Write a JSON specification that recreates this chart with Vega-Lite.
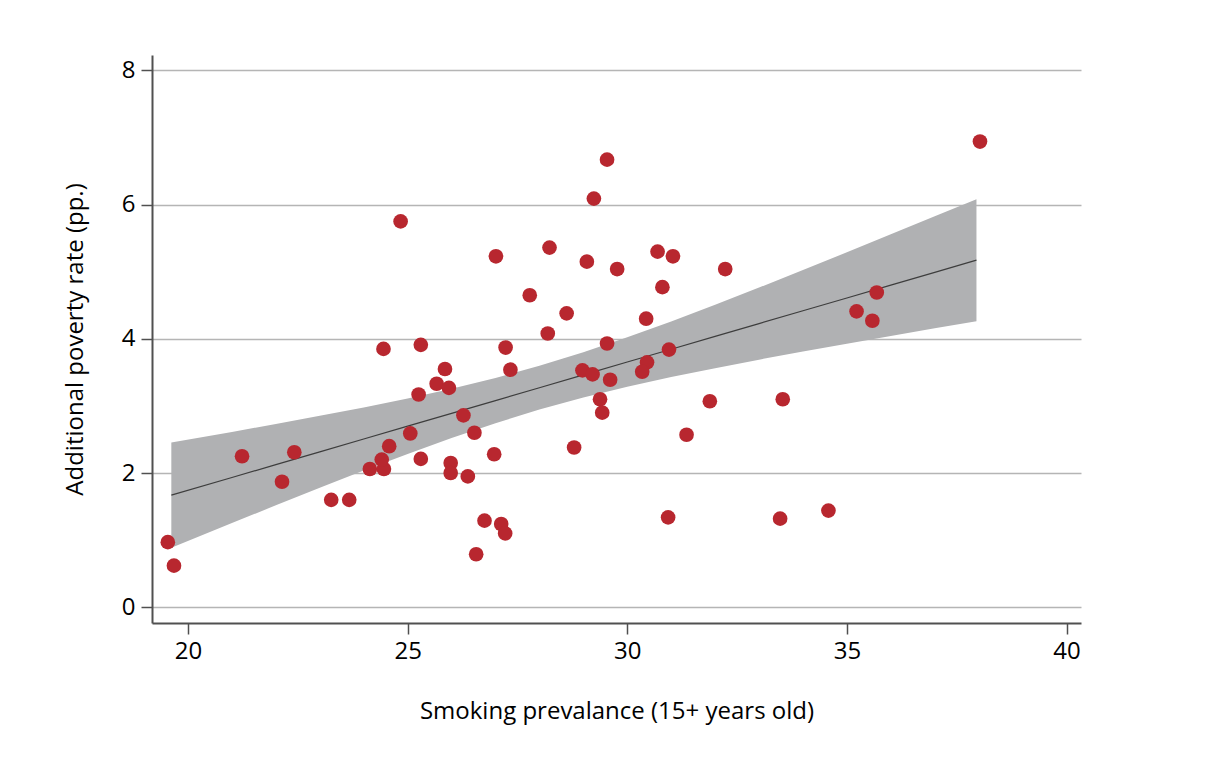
{
  "$schema": "https://vega.github.io/schema/vega-lite/v6.json",
  "width": 929,
  "height": 568,
  "autosize": {"type": "none"},
  "padding": {"left": 152, "top": 55, "right": 134, "bottom": 139},
  "background": "white",
  "config": {
    "view": {"stroke": null},
    "font": "Open Sans",
    "axisX": {
      "domainColor": "#505050", "domainWidth": 2,
      "tickColor": "#505050", "tickWidth": 1.5, "tickSize": 11,
      "labelFontSize": 24, "labelColor": "#000000", "labelPadding": 5, "labelFlush": false,
      "titleFontSize": 24, "titleFontWeight": "normal", "titleColor": "#000000", "titlePadding": 36,
      "grid": false
    },
    "axisY": {
      "domainColor": "#505050", "domainWidth": 2,
      "tickColor": "#505050", "tickWidth": 1.5, "tickSize": 11,
      "labelFontSize": 24, "labelColor": "#000000", "labelPadding": 6, "labelFlush": false, "labelAngle": 0,
      "titleFontSize": 24, "titleFontWeight": "normal", "titleColor": "#000000", "titlePadding": 34,
      "grid": true, "gridColor": "#b5b5b5", "gridWidth": 1.3
    }
  },
  "datasets": {
    "countries": [
      {"smoking": 19.54, "poverty": 0.97},
      {"smoking": 19.68, "poverty": 0.62},
      {"smoking": 21.23, "poverty": 2.25},
      {"smoking": 22.42, "poverty": 2.31},
      {"smoking": 22.14, "poverty": 1.87},
      {"smoking": 23.26, "poverty": 1.60},
      {"smoking": 23.67, "poverty": 1.60},
      {"smoking": 24.14, "poverty": 2.06},
      {"smoking": 24.46, "poverty": 2.06},
      {"smoking": 24.41, "poverty": 2.20},
      {"smoking": 24.58, "poverty": 2.40},
      {"smoking": 25.06, "poverty": 2.59},
      {"smoking": 25.30, "poverty": 2.21},
      {"smoking": 25.25, "poverty": 3.17},
      {"smoking": 26.27, "poverty": 2.86},
      {"smoking": 26.52, "poverty": 2.60},
      {"smoking": 25.98, "poverty": 2.15},
      {"smoking": 25.98, "poverty": 2.00},
      {"smoking": 26.37, "poverty": 1.95},
      {"smoking": 26.75, "poverty": 1.29},
      {"smoking": 26.56, "poverty": 0.79},
      {"smoking": 26.97, "poverty": 2.28},
      {"smoking": 27.13, "poverty": 1.24},
      {"smoking": 27.22, "poverty": 1.10},
      {"smoking": 25.66, "poverty": 3.33},
      {"smoking": 25.94, "poverty": 3.27},
      {"smoking": 25.85, "poverty": 3.55},
      {"smoking": 24.45, "poverty": 3.85},
      {"smoking": 25.30, "poverty": 3.91},
      {"smoking": 27.23, "poverty": 3.87},
      {"smoking": 27.34, "poverty": 3.54},
      {"smoking": 29.54, "poverty": 6.67},
      {"smoking": 29.24, "poverty": 6.09},
      {"smoking": 24.84, "poverty": 5.75},
      {"smoking": 27.01, "poverty": 5.23},
      {"smoking": 28.23, "poverty": 5.36},
      {"smoking": 29.08, "poverty": 5.15},
      {"smoking": 29.77, "poverty": 5.04},
      {"smoking": 30.69, "poverty": 5.30},
      {"smoking": 31.04, "poverty": 5.23},
      {"smoking": 32.23, "poverty": 5.04},
      {"smoking": 30.80, "poverty": 4.77},
      {"smoking": 27.78, "poverty": 4.65},
      {"smoking": 28.62, "poverty": 4.38},
      {"smoking": 28.19, "poverty": 4.08},
      {"smoking": 30.43, "poverty": 4.30},
      {"smoking": 29.54, "poverty": 3.93},
      {"smoking": 30.95, "poverty": 3.84},
      {"smoking": 30.45, "poverty": 3.65},
      {"smoking": 30.34, "poverty": 3.51},
      {"smoking": 28.98, "poverty": 3.53},
      {"smoking": 29.21, "poverty": 3.47},
      {"smoking": 29.61, "poverty": 3.39},
      {"smoking": 29.38, "poverty": 3.10},
      {"smoking": 29.43, "poverty": 2.90},
      {"smoking": 31.88, "poverty": 3.07},
      {"smoking": 33.54, "poverty": 3.10},
      {"smoking": 31.35, "poverty": 2.57},
      {"smoking": 28.79, "poverty": 2.38},
      {"smoking": 30.93, "poverty": 1.34},
      {"smoking": 33.48, "poverty": 1.32},
      {"smoking": 34.58, "poverty": 1.44},
      {"smoking": 38.03, "poverty": 6.94},
      {"smoking": 35.68, "poverty": 4.69},
      {"smoking": 35.22, "poverty": 4.41},
      {"smoking": 35.58, "poverty": 4.27}
    ],
    "linearFit": [
      {"smoking": 19.62, "fit": 1.670, "lo": 0.885, "hi": 2.455},
      {"smoking": 21, "fit": 1.934, "lo": 1.255, "hi": 2.613},
      {"smoking": 22, "fit": 2.125, "lo": 1.519, "hi": 2.731},
      {"smoking": 23, "fit": 2.316, "lo": 1.780, "hi": 2.852},
      {"smoking": 24, "fit": 2.507, "lo": 2.036, "hi": 2.978},
      {"smoking": 25, "fit": 2.698, "lo": 2.284, "hi": 3.112},
      {"smoking": 26, "fit": 2.889, "lo": 2.521, "hi": 3.257},
      {"smoking": 27, "fit": 3.080, "lo": 2.743, "hi": 3.417},
      {"smoking": 28, "fit": 3.271, "lo": 2.945, "hi": 3.597},
      {"smoking": 29, "fit": 3.462, "lo": 3.125, "hi": 3.799},
      {"smoking": 30, "fit": 3.654, "lo": 3.286, "hi": 4.022},
      {"smoking": 31, "fit": 3.845, "lo": 3.430, "hi": 4.260},
      {"smoking": 32, "fit": 4.036, "lo": 3.563, "hi": 4.509},
      {"smoking": 33, "fit": 4.227, "lo": 3.690, "hi": 4.764},
      {"smoking": 34, "fit": 4.418, "lo": 3.811, "hi": 5.025},
      {"smoking": 35, "fit": 4.609, "lo": 3.928, "hi": 5.290},
      {"smoking": 36, "fit": 4.800, "lo": 4.043, "hi": 5.557},
      {"smoking": 37, "fit": 4.991, "lo": 4.156, "hi": 5.826},
      {"smoking": 37.95, "fit": 5.172, "lo": 4.262, "hi": 6.082}
    ]
  },
  "layer": [
    {
      "data": {"name": "linearFit"},
      "mark": {"type": "area", "color": "#b0b1b3", "opacity": 1},
      "encoding": {
        "x": {"field": "smoking", "type": "quantitative",
              "scale": {"domain": [19.18, 40.33], "nice": false, "zero": false},
              "axis": {"title": "Smoking prevalance (15+ years old)", "values": [20, 25, 30, 35, 40]}},
        "y": {"field": "lo", "type": "quantitative",
              "scale": {"domain": [-0.235, 8.23], "nice": false, "zero": false},
              "axis": {"title": "Additional poverty rate (pp.)", "values": [0, 2, 4, 6, 8]}},
        "y2": {"field": "hi"}
      }
    },
    {
      "data": {"name": "linearFit"},
      "mark": {"type": "line", "color": "#3d3d3d", "strokeWidth": 1.2},
      "encoding": {
        "x": {"field": "smoking", "type": "quantitative",
              "axis": {"title": "Smoking prevalance (15+ years old)", "values": [20, 25, 30, 35, 40]}},
        "y": {"field": "fit", "type": "quantitative",
              "axis": {"title": "Additional poverty rate (pp.)", "values": [0, 2, 4, 6, 8]}}
      }
    },
    {
      "data": {"name": "countries"},
      "mark": {"type": "circle", "size": 215, "color": "#b8272f", "opacity": 1},
      "encoding": {
        "x": {"field": "smoking", "type": "quantitative",
              "axis": {"title": "Smoking prevalance (15+ years old)", "values": [20, 25, 30, 35, 40]}},
        "y": {"field": "poverty", "type": "quantitative",
              "axis": {"title": "Additional poverty rate (pp.)", "values": [0, 2, 4, 6, 8]}}
      }
    }
  ]
}
